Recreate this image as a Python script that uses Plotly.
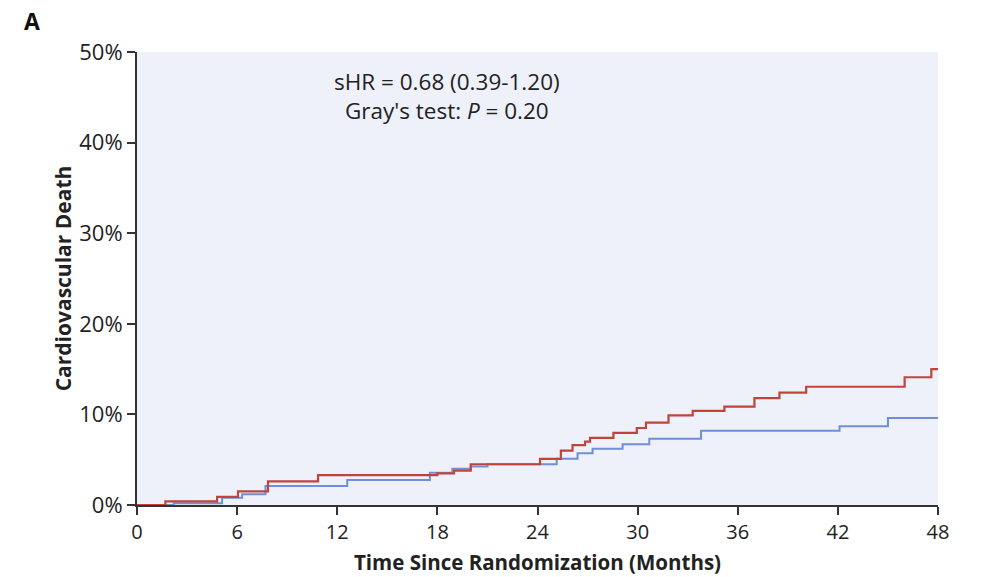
import plotly.graph_objects as go

# Data (months, cumulative incidence %)
red_time = [0, 1.7, 4.8, 6.05, 7.85, 10.85, 18.0, 19.0, 20.0, 24.15, 25.4, 26.1, 26.85, 27.15,
            28.55, 29.95, 30.5, 31.85, 33.3, 35.2, 37.0, 38.5, 40.1, 46.0, 47.6, 48]
red_val = [0, 0.4, 0.9, 1.5, 2.6, 3.3, 3.5, 3.8, 4.5, 5.1, 6.0, 6.6, 7.0, 7.4,
           7.95, 8.5, 9.1, 9.9, 10.4, 10.85, 11.8, 12.4, 13.05, 14.1, 15.0, 15.0]

blue_time = [0, 2.2, 5.1, 6.3, 7.7, 12.6, 17.55, 18.9, 20.0, 21.0, 25.15, 26.4, 27.3, 29.1,
             30.7, 33.8, 42.1, 45.0, 48]
blue_val = [0, 0.2, 0.8, 1.2, 2.1, 2.75, 3.55, 4.0, 4.25, 4.5, 5.1, 5.7, 6.2, 6.7,
            7.3, 8.2, 8.7, 9.6, 9.6]

x_ticks = [0, 6, 12, 18, 24, 30, 36, 42, 48]
y_ticks = [0, 10, 20, 30, 40, 50]
y_ticktext = ["0%", "10%", "20%", "30%", "40%", "50%"]

FONT = "Open Sans"
W, H = 986, 577
OFF = 8  # page body margin
L, T = 137 - OFF, 52 - OFF
PW, PH = 801, 453
R = W - L - PW
B = H - T - PH

fig = go.Figure()
fig.add_trace(go.Scatter(x=blue_time, y=blue_val, mode="lines", line_shape="hv",
                         line=dict(color="#6F8FD6", width=2), showlegend=False))
fig.add_trace(go.Scatter(x=red_time, y=red_val, mode="lines", line_shape="hv",
                         line=dict(color="#C0443C", width=2.2), showlegend=False))


def px_to_paper(px, py):
    return (px - OFF - L) / PW, 1 - (py - OFF - T) / PH


ax, ay = px_to_paper(447, 96)

fig.update_layout(
    width=W, height=H,
    margin=dict(l=L, r=R, t=T, b=B),
    paper_bgcolor="white",
    plot_bgcolor="#EEF1F9",
    font=dict(family=FONT, size=20, color="#222"),
    title=dict(text="<b>A</b>", xref="container", yref="container",
               x=(24 - OFF) / W, xanchor="left",
               y=1 - (22 - OFF) / H, yanchor="middle",
               font=dict(family=FONT, size=23, color="#111")),
    xaxis=dict(range=[0, 48], tickvals=x_ticks, ticks="outside", ticklen=8, tickwidth=2,
               tickcolor="#333", showline=True, linecolor="#333", linewidth=2,
               showgrid=False, zeroline=False,
               tickfont=dict(family=FONT, size=20, color="#222"),
               title=dict(text="<b>Time Since Randomization (Months)</b>",
                          font=dict(family=FONT, size=20.5, color="#222"), standoff=12)),
    yaxis=dict(range=[0, 50], tickvals=y_ticks, ticktext=y_ticktext, ticks="outside", ticklen=8,
               tickwidth=2, tickcolor="#333", showline=True, linecolor="#333", linewidth=2,
               showgrid=False, zeroline=False,
               tickfont=dict(family=FONT, size=22, color="#222"),
               title=dict(text="<b>Cardiovascular Death</b>",
                          font=dict(family=FONT, size=21, color="#222"), standoff=2)),
    annotations=[
        dict(text="sHR = 0.68 (0.39-1.20)<br>Gray's test: <i>P</i> = 0.20",
             x=ax, y=ay, xref="paper", yref="paper", xanchor="center", yanchor="middle",
             showarrow=False, font=dict(family=FONT, size=22.5, color="#222")),
    ],
)

fig.write_html("out.html")
